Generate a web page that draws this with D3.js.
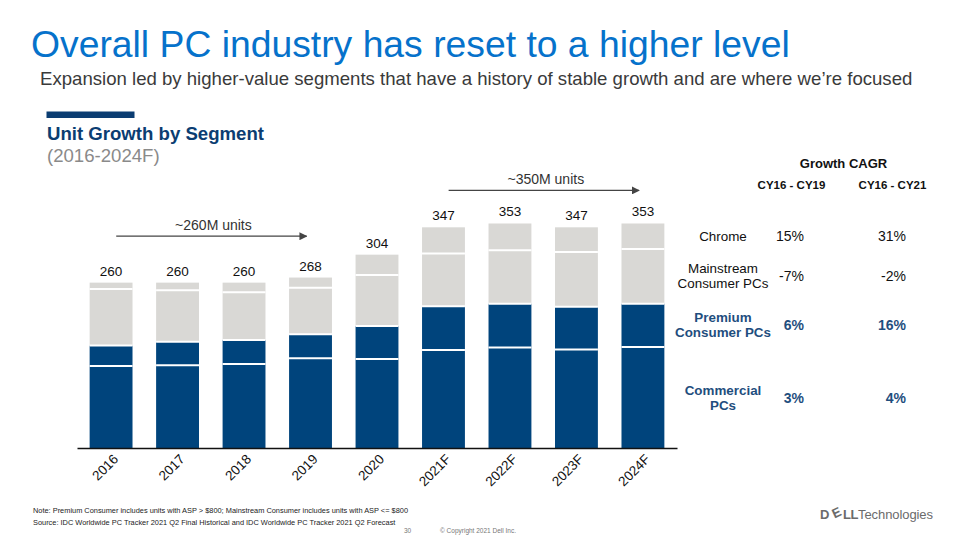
<!DOCTYPE html>
<html>
<head>
<meta charset="utf-8">
<script src="https://cdn.jsdelivr.net/npm/d3@7"></script>
<style>
  html, body { margin: 0; padding: 0; background: #fff; }
  svg { display: block; font-family: "Liberation Sans", Arial, sans-serif; }
</style>
</head>
<body>
<svg id="chart" width="960" height="540"></svg>
<script>
// ---------------- DATA ----------------
const years = ["2016", "2017", "2018", "2019", "2020", "2021F", "2022F", "2023F", "2024F"];
const commercial = [129, 130, 132, 141, 140, 154, 158, 155, 159];
const premium    = [32, 37, 38, 38, 52, 69, 69, 67, 68];
const mainstream = [89, 81, 75, 73, 80, 83, 84, 86, 86];
const chrome     = [10, 12, 15, 16, 32, 41, 42, 39, 40];
const totals     = [260, 260, 260, 268, 304, 347, 353, 347, 353];

const segmentNames = ["Commercial PCs", "Premium Consumer PCs", "Mainstream Consumer PCs", "Chrome"];
const cagrHeaders = ["CY16 - CY19", "CY16 - CY21"];
const cagrRows = [
  { label: ["Chrome"], v1: "15%", v2: "31%", bold: false },
  { label: ["Mainstream", "Consumer PCs"], v1: "-7%", v2: "-2%", bold: false },
  { label: ["Premium", "Consumer PCs"], v1: "6%", v2: "16%", bold: true },
  { label: ["Commercial", "PCs"], v1: "3%", v2: "4%", bold: true }
];
const periodLabels = ["~260M units", "~350M units"];

// ---------------- SETUP ----------------
const svg = d3.select("#chart");
const DARK = "#00447C";
const LIGHT = "#D9D8D5";
const segColors = [DARK, DARK, LIGHT, LIGHT];

// Title block
svg.append("text").attr("x", 31).attr("y", 57)
  .attr("font-size", 37.3).attr("fill", "#0672CB")
  .text("Overall PC industry has reset to a higher level");
svg.append("text").attr("x", 40).attr("y", 85)
  .attr("font-size", 18.6).attr("fill", "#3a3a3a")
  .text("Expansion led by higher-value segments that have a history of stable growth and are where we\u2019re focused");

svg.append("rect").attr("x", 46.5).attr("y", 111.5).attr("width", 88).attr("height", 6.5).attr("fill", "#0B3D72");
svg.append("text").attr("x", 47).attr("y", 140)
  .attr("font-size", 18.6).attr("font-weight", "bold").attr("fill", "#0B3D72")
  .text("Unit Growth by Segment");
svg.append("text").attr("x", 47).attr("y", 162)
  .attr("font-size", 18.6).attr("fill", "#8a8a8a")
  .text("(2016-2024F)");

// Scales
const x = d3.scaleBand().domain(years).range([77, 677]).paddingInner(0.355).paddingOuter(0.19);
const y = d3.scaleLinear().domain([0, 400]).range([448, 193.6]);

// Stack data
const rows = years.map((yr, i) => ({
  year: yr,
  s0: commercial[i], s1: premium[i], s2: mainstream[i], s3: chrome[i]
}));
const stack = d3.stack().keys(["s0", "s1", "s2", "s3"]);
const series = stack(rows);

const g = svg.append("g");
series.forEach((s, si) => {
  g.selectAll(null).data(s).enter().append("rect")
    .attr("x", d => x(d.data.year))
    .attr("width", x.bandwidth())
    .attr("y", d => y(d[1]))
    .attr("height", d => y(d[0]) - y(d[1]))
    .attr("fill", segColors[si]);
});
// white separators between segments
series.slice(1).forEach(s => {
  g.selectAll(null).data(s).enter().append("line")
    .attr("x1", d => x(d.data.year))
    .attr("x2", d => x(d.data.year) + x.bandwidth())
    .attr("y1", d => y(d[0]))
    .attr("y2", d => y(d[0]))
    .attr("stroke", "#fff").attr("stroke-width", 2);
});

// Total labels
g.selectAll(null).data(years).enter().append("text")
  .attr("x", d => x(d) + x.bandwidth() / 2)
  .attr("y", (d, i) => y(totals[i]) - 7)
  .attr("text-anchor", "middle")
  .attr("font-size", 13.5).attr("fill", "#111")
  .text((d, i) => totals[i]);

// Axis
const axis = svg.append("g").attr("transform", "translate(0,448)")
  .call(d3.axisBottom(x).tickSize(0).tickSizeOuter(0));
axis.select(".domain").attr("stroke", "#111").attr("stroke-width", 1.6);
axis.selectAll("text")
  .attr("x", 0).attr("y", 0).attr("dy", 0)
  .attr("text-anchor", "end")
  .attr("transform", "translate(8,12) rotate(-45)")
  .attr("font-size", 13.5).attr("fill", "#111")
  .attr("font-family", "Liberation Sans, Arial, sans-serif");

// Period arrows
const defs = svg.append("defs");
defs.append("marker").attr("id", "arr").attr("viewBox", "0 0 10 10")
  .attr("refX", 9).attr("refY", 5).attr("markerWidth", 8).attr("markerHeight", 8)
  .attr("markerUnits", "userSpaceOnUse").attr("orient", "auto")
  .append("path").attr("d", "M0,0 L10,5 L0,10 Z").attr("fill", "#444");

const arrows = [
  { from: "2016", to: "2019", yv: 333, label: periodLabels[0] },
  { from: "2021F", to: "2024F", yv: 405, label: periodLabels[1] }
];
arrows.forEach(a => {
  const x1 = x(a.from) + x.bandwidth() * 0.62;
  const x2 = x(a.to) + x.bandwidth() * 0.41;
  const yy = y(a.yv);
  svg.append("line").attr("x1", x1).attr("x2", x2).attr("y1", yy).attr("y2", yy)
    .attr("stroke", "#444").attr("stroke-width", 1.3).attr("marker-end", "url(#arr)");
  svg.append("text").attr("x", (x1 + x2) / 2 + 2).attr("y", yy - 6.5)
    .attr("text-anchor", "middle").attr("font-size", 14).attr("fill", "#333")
    .text(a.label);
});

// CAGR table
svg.append("text").attr("x", 843.5).attr("y", 168).attr("text-anchor", "middle")
  .attr("font-size", 13).attr("font-weight", "bold").attr("fill", "#111").text("Growth CAGR");
const colX = [804, 906];
const headX = [791.5, 892.5];
cagrHeaders.forEach((h, i) => {
  svg.append("text").attr("x", headX[i]).attr("y", 189).attr("text-anchor", "middle")
    .attr("font-size", 11.5).attr("font-weight", "bold").attr("fill", "#111").text(h);
});
const rowY = [241, 281, 330, 403];
const BLUE_T = "#1F4E7E";
cagrRows.forEach((r, i) => {
  const col = r.bold ? BLUE_T : "#111";
  const fw = r.bold ? "bold" : "normal";
  const n = r.label.length;
  r.label.forEach((l, li) => {
    svg.append("text").attr("x", 723)
      .attr("y", rowY[i] + (li - (n - 1) / 2) * 15.5 - (n > 1 ? 0.5 : 0))
      .attr("text-anchor", "middle").attr("font-size", 13.4).attr("font-weight", fw)
      .attr("fill", col).text(l);
  });
  [r.v1, r.v2].forEach((v, vi) => {
    svg.append("text").attr("x", colX[vi]).attr("y", rowY[i])
      .attr("text-anchor", "end").attr("font-size", 14).attr("font-weight", fw)
      .attr("fill", col).text(v);
  });
});

// Footer
svg.append("text").attr("x", 33).attr("y", 512.5).attr("font-size", 7.4).attr("fill", "#222")
  .text("Note: Premium Consumer includes units with ASP > $800; Mainstream Consumer includes units with ASP <= $800");
svg.append("text").attr("x", 33).attr("y", 524.5).attr("font-size", 7.4).attr("fill", "#222")
  .text("Source: IDC Worldwide PC Tracker 2021 Q2 Final Historical and IDC Worldwide PC Tracker 2021 Q2 Forecast");
svg.append("text").attr("x", 404).attr("y", 533).attr("font-size", 6.5).attr("fill", "#777").text("30");
svg.append("text").attr("x", 440).attr("y", 533).attr("font-size", 6.5).attr("fill", "#777").text("\u00A9 Copyright 2021 Dell Inc.");

// Logo (separate glyph pieces to avoid overlap)
const logoG = svg.append("g").attr("fill", "#6b6b6b").attr("font-size", 13);
logoG.append("text").attr("x", 820).attr("y", 518.5).attr("font-weight", "bold").text("D");
logoG.append("text").attr("font-weight", "bold")
  .attr("transform", "translate(834.5,518.5) rotate(-25)").text("E");
logoG.append("text").attr("x", 843).attr("y", 518.5).attr("font-weight", "bold")
  .attr("letter-spacing", -0.5).text("LL");
logoG.append("text").attr("x", 858).attr("y", 518.5).attr("textLength", 75).text("Technologies");
</script>
</body>
</html>
